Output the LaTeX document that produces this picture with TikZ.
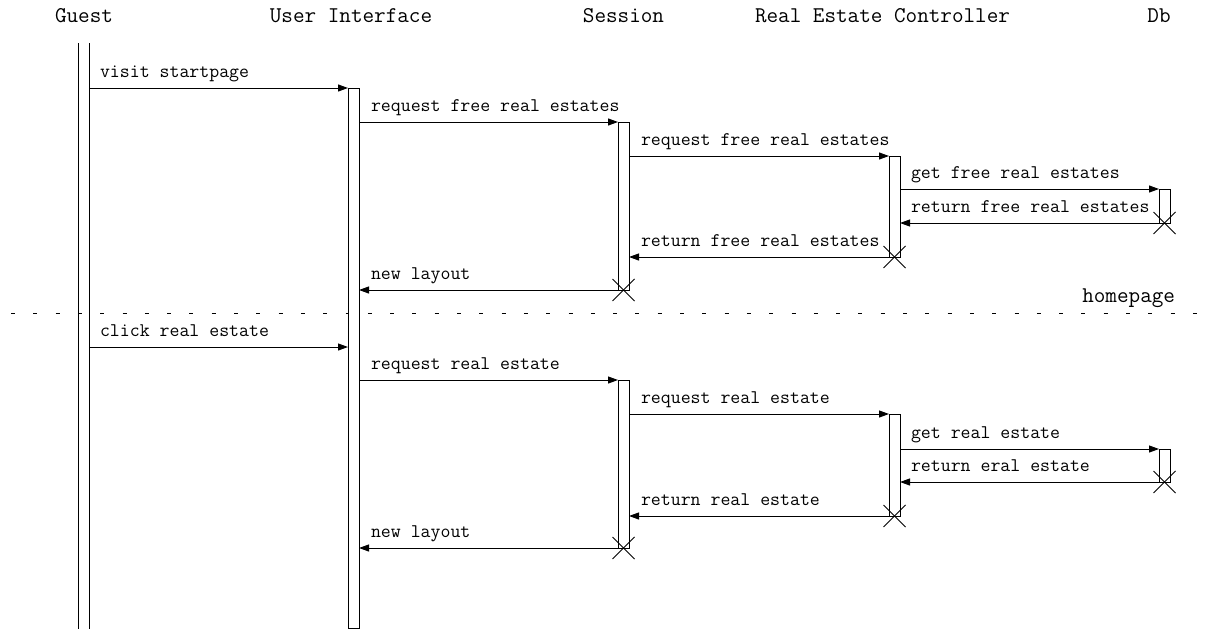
\documentclass[tikz,border=0pt]{standalone}
\usepackage{fontspec}
\usetikzlibrary{arrows.meta}
\begin{document}
\begin{tikzpicture}[x=1pt,y=-1pt,
  every node/.style={inner sep=0pt, outer sep=0pt},
  head/.style={font=\ttfamily\fontsize{22.5}{26}\selectfont, anchor=base},
  lbl/.style={font=\ttfamily\fontsize{19.3}{22}\selectfont, anchor=base west},
  act/.style={draw, line width=1pt, fill=white, minimum width=11pt, inner sep=0pt, anchor=north},
  msg/.style={line width=1pt, -{Triangle[length=10pt,width=7pt]}},
  life/.style={line width=1pt},
  kill/.style={line width=1pt},
  sep/.style={line width=1pt, dash pattern=on 4pt off 18.3pt, dash phase=11.3pt},
]
\useasboundingbox (0,0) rectangle (1207,629);

% headers
\node[head] (hguest) at (84,22) {Guest};
\node[head] (hui) at (351,22) {User Interface};
\node[head] (hsess) at (623.5,22) {Session};
\node[head] (hrec) at (882.5,22) {Real Estate Controller};
\node[head] (hdb) at (1159,22) {Db};

% separator
\draw[sep] (0,313) -- (1207,313);
\node[font=\ttfamily\fontsize{22.5}{26}\selectfont, anchor=base east] (home) at (1175,302) {homepage};

% guest lifeline
\coordinate (gtop) at (83.5,43);
\coordinate (gbot) at (83.5,629);
\draw[life] ([xshift=-5.5pt]gtop) -- ([xshift=-5.5pt]gbot);
\draw[life] ([xshift=5.5pt]gtop) -- ([xshift=5.5pt]gbot);

% activations
\node[act, minimum height=540pt] (ui1) at (353.5,88) {};
\node[act, minimum height=168pt] (sess1) at (623.5,122) {};
\node[act, minimum height=101pt] (rec1) at (894.5,156) {};
\node[act, minimum height=34pt] (db1) at (1164.5,189) {};
\node[act, minimum height=168pt] (sess2) at (623.5,380) {};
\node[act, minimum height=102pt] (rec2) at (894.5,414) {};
\node[act, minimum height=33pt] (db2) at (1164.5,449) {};

% first scenario
\coordinate (g1) at (89,88);
\draw[msg] (g1) -- (ui1.north west);
\node[lbl] (l1) at ([shift={(11,-11)}]g1) {visit startpage};

\coordinate (a2) at (ui1.east |- sess1.north);
\draw[msg] (a2) -- (sess1.north west);
\node[lbl] (l2) at ([shift={(12,-11)}]a2) {request free real estates};

\coordinate (a3) at (sess1.east |- rec1.north);
\draw[msg] (a3) -- (rec1.north west);
\node[lbl] (l3) at ([shift={(12,-11)}]a3) {request free real estates};

\coordinate (a4) at (rec1.east |- db1.north);
\draw[msg] (a4) -- (db1.north west);
\node[lbl] (l4) at ([shift={(11,-11)}]a4) {get free real estates};

\coordinate (a5) at (rec1.east |- db1.south);
\draw[msg] (db1.south west) -- (a5);
\node[lbl] (l5) at ([shift={(11,-11)}]a5) {return free real estates};

\coordinate (a6) at (sess1.east |- rec1.south);
\draw[msg] (rec1.south west) -- (a6);
\node[lbl] (l6) at ([shift={(12,-11)}]a6) {return free real estates};

\coordinate (a7) at (ui1.east |- sess1.south);
\draw[msg] (sess1.south west) -- (a7);
\node[lbl] (l7) at ([shift={(12,-11)}]a7) {new layout};

% second scenario
\coordinate (g2) at (89,347);
\draw[msg] (g2) -- (ui1.west |- g2);
\node[lbl] (m1) at ([shift={(11,-11)}]g2) {click real estate};

\coordinate (b2) at (ui1.east |- sess2.north);
\draw[msg] (b2) -- (sess2.north west);
\node[lbl] (m2) at ([shift={(12,-11)}]b2) {request real estate};

\coordinate (b3) at (sess2.east |- rec2.north);
\draw[msg] (b3) -- (rec2.north west);
\node[lbl] (m3) at ([shift={(12,-11)}]b3) {request real estate};

\coordinate (b4) at (rec2.east |- db2.north);
\draw[msg] (b4) -- (db2.north west);
\node[lbl] (m4) at ([shift={(11,-11)}]b4) {get real estate};

\coordinate (b5) at (rec2.east |- db2.south);
\draw[msg] (db2.south west) -- (b5);
\node[lbl] (m5) at ([shift={(11,-11)}]b5) {return eral estate};

\coordinate (b6) at (sess2.east |- rec2.south);
\draw[msg] (rec2.south west) -- (b6);
\node[lbl] (m6) at ([shift={(12,-11)}]b6) {return real estate};

\coordinate (b7) at (ui1.east |- sess2.south);
\draw[msg] (sess2.south west) -- (b7);
\node[lbl] (m7) at ([shift={(12,-11)}]b7) {new layout};

% destruction marks
\foreach \n in {sess1,rec1,db1,sess2,rec2,db2}{
  \draw[kill] ([shift={(-11,-11)}]\n.south) -- ([shift={(11,11)}]\n.south);
  \draw[kill] ([shift={(-11,11)}]\n.south) -- ([shift={(11,-11)}]\n.south);
}
\end{tikzpicture}
\end{document}
